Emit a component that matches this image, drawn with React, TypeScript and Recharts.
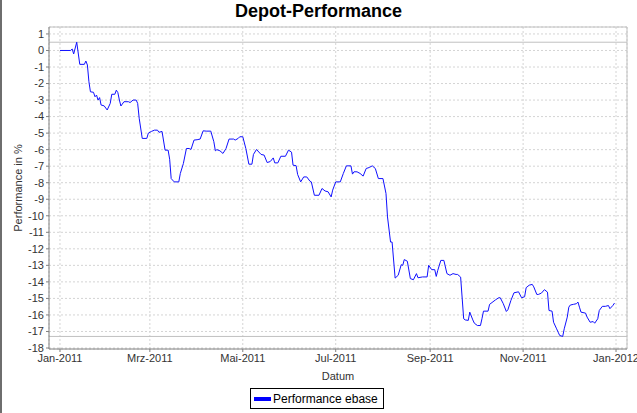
import {
	CartesianGrid,
	Line,
	LineChart,
	ReferenceLine,
	XAxis,
	YAxis,
} from "recharts";

// Tage seit 01.01.2011
const tage = [
	0, 7, 8, 9, 11, 13, 16, 17, 18, 19,
	20, 22, 23, 24, 25, 26, 27, 29, 31, 33,
	34, 36, 37, 38, 39, 40, 42, 45, 46, 48,
	50, 51, 52, 54, 57, 58, 60, 62, 64, 65,
	67, 69, 71, 72, 73, 75, 78, 79, 81, 83,
	85, 86, 88, 90, 92, 94, 96, 99, 101, 102,
	103, 105, 107, 109, 111, 114, 115, 117, 118, 120,
	122, 124, 126, 127, 129, 132, 134, 136, 138, 140,
	141, 143, 145, 148, 150, 152, 153, 155, 156, 158,
	160, 162, 164, 165, 167, 170, 172, 174, 176, 178,
	179, 181, 184, 186, 188, 191, 192, 193, 195, 197,
	199, 201, 203, 205, 207, 209, 212, 214, 215, 217,
	218, 220, 222, 224, 225, 226, 228, 230, 232, 234,
	235, 238, 241, 242, 244, 246, 247, 248, 250, 252,
	254, 256, 258, 260, 261, 263, 265, 266, 268, 269,
	271, 272, 274, 276, 277, 278, 281, 282, 286, 288,
	289, 291, 293, 294, 296, 298, 301, 303, 305, 306,
	308, 310, 311, 313, 314, 316, 318, 320, 321, 323,
	324, 326, 327, 328, 330, 331, 333, 334, 335, 337,
	339, 340, 341, 342, 345, 346, 348, 350, 351, 353,
	354, 356, 358, 360, 361, 363, 364,
];

// Performance in %
const werte = [
	0, 0, 0.09, -0.21, 0.5, -0.84, -0.84, -0.64, -0.88, -1.89,
	-2.5, -2.53, -2.8, -2.7, -3.0, -2.85, -3.3, -3.35, -3.6, -3.2,
	-2.65, -2.65, -2.4, -2.55, -3.0, -3.36, -3.1, -3.1, -3.15, -3.0,
	-3.0, -3.2, -4.1, -5.32, -5.32, -5.0, -4.9, -4.82, -4.82, -4.95,
	-4.9, -6.03, -6.03, -6.58, -7.75, -7.95, -7.95, -7.44, -6.84, -5.93,
	-5.93, -5.99, -5.42, -5.4, -5.36, -4.86, -4.88, -4.88, -5.52, -6.07,
	-6.0, -6.07, -6.23, -5.93, -5.36, -5.36, -5.42, -5.32, -5.22, -5.22,
	-5.93, -6.88, -6.88, -6.29, -5.99, -6.29, -6.33, -6.78, -6.72, -6.5,
	-6.8, -6.8, -6.4, -6.4, -6.03, -6.15, -6.94, -6.97, -7.5, -7.95,
	-7.65, -7.65, -7.9, -7.95, -8.76, -8.76, -8.35, -8.5, -8.55, -8.86,
	-8.45, -7.95, -7.95, -7.44, -6.98, -6.98, -7.48, -7.34, -7.34, -7.44,
	-7.6, -7.14, -7.08, -6.98, -7.14, -7.75, -7.75, -8.65, -10.07, -11.59,
	-11.59, -13.77, -13.6, -12.96, -13.0, -12.65, -12.75, -13.8, -13.87, -13.5,
	-13.75, -13.7, -13.7, -13.0, -13.26, -13.26, -13.67, -13.3, -12.7, -12.7,
	-13.5, -13.6, -13.5, -13.55, -13.55, -13.71, -16.23, -16.3, -16.33, -15.83,
	-16.3, -16.5, -16.64, -16.64, -16.23, -15.77, -15.77, -15.36, -15.08, -14.96,
	-14.96, -15.32, -15.79, -15.69, -15.12, -14.66, -14.6, -14.96, -14.9, -14.35,
	-14.2, -14.15, -14.3, -14.76, -14.76, -14.68, -14.47, -14.62, -15.73, -15.77,
	-16.44, -16.84, -17.04, -17.24, -17.3, -16.84, -16.13, -15.53, -15.4, -15.36,
	-15.32, -15.22, -15.53, -15.83, -15.89, -16.13, -16.44, -16.4, -16.5, -16.23,
	-15.73, -15.48, -15.48, -15.43, -15.62, -15.42, -15.28,
];

const xTickDaten = [
	"2011-01-01",
	"2011-03-01",
	"2011-05-01",
	"2011-07-01",
	"2011-09-01",
	"2011-11-01",
	"2012-01-01",
];
const xTickLabels = [
	"Jan-2011",
	"Mrz-2011",
	"Mai-2011",
	"Jul-2011",
	"Sep-2011",
	"Nov-2011",
	"Jan-2012",
];
const yTicks = [
	1, 0, -1, -2, -3, -4, -5, -6, -7, -8, -9, -10, -11, -12, -13, -14, -15,
	-16, -17, -18,
];

const TAG = 86400000;
const START = Date.UTC(2011, 0, 1);
const FONT = "'Liberation Sans', Arial, sans-serif";

const data = tage.map((d, i) => ({ t: START + d * TAG, wert: werte[i] }));
const xTicks = xTickDaten.map((s) => Date.parse(s + "T00:00:00Z"));
const xMin = START - 7.2 * TAG;
const xMax = START + 372.2 * TAG;
const yMin = -18.06;
const yMax = 1.42;
const maxWert = Math.max(...werte);
const minWert = Math.min(...werte);

export default function App() {
	return (
		<div
			style={{
				position: "absolute",
				left: 0,
				top: 0,
				width: 637,
				height: 413,
				background: "#fff",
				fontFamily: FONT,
			}}
		>
			{/* Fensterrand links */}
			<div
				style={{
					position: "absolute",
					left: 0,
					top: 0,
					width: 2,
					height: 413,
					background: "#6e6e6e",
				}}
			/>
			<div
				style={{
					position: "absolute",
					left: 0,
					top: 1,
					width: 637,
					textAlign: "center",
					fontSize: 18,
					fontWeight: "bold",
					color: "#000",
				}}
			>
				Depot-Performance
			</div>
			<LineChart
				width={637}
				height={413}
				data={data}
				margin={{ top: 27, right: 10, bottom: 29, left: 0 }}
			>
				<CartesianGrid stroke="#d4d4d4" strokeDasharray="2 2" />
				<XAxis
					dataKey="t"
					type="number"
					domain={[xMin, xMax]}
					ticks={xTicks}
					tickFormatter={(v: number) => xTickLabels[xTicks.indexOf(v)] ?? ""}
					height={35}
					tickSize={3}
					tick={{ fill: "#333", fontSize: 11, fontFamily: FONT }}
					axisLine={{ stroke: "#808080" }}
					tickLine={{ stroke: "#808080" }}
					label={{
						value: "Datum",
						position: "insideBottom",
						offset: 4,
						fill: "#333",
						fontSize: 11,
						fontFamily: FONT,
					}}
				/>
				<YAxis
					type="number"
					domain={[yMin, yMax]}
					ticks={yTicks}
					interval={0}
					width={49}
					tickSize={3}
					tickMargin={2}
					tick={{ fill: "#333", fontSize: 11, fontFamily: FONT }}
					axisLine={{ stroke: "#808080" }}
					tickLine={{ stroke: "#808080" }}
					label={{
						value: "Performance in %",
						angle: -90,
						position: "insideLeft",
						offset: 18,
						fill: "#333",
						fontSize: 11,
						fontFamily: FONT,
						style: { textAnchor: "middle" },
					}}
				/>
				<ReferenceLine y={yMax} stroke="#c0c0c0" />
				<ReferenceLine x={xMax} stroke="#c0c0c0" />
				<ReferenceLine y={maxWert} stroke="#c0c0c0" />
				<ReferenceLine y={minWert} stroke="#c0c0c0" />
				<Line
					dataKey="wert"
					type="linear"
					stroke="#1010ff"
					strokeWidth={1}
					dot={false}
					isAnimationActive={false}
				/>
			</LineChart>
			{/* Legende */}
			<div
				style={{
					position: "absolute",
					left: 250,
					top: 388,
					width: 132,
					height: 19,
					border: "1px solid #000",
					display: "flex",
					alignItems: "center",
					fontSize: 12,
					color: "#000",
				}}
			>
				<span
					style={{
						display: "inline-block",
						width: 17,
						height: 4,
						background: "#0000ff",
						marginLeft: 3,
						marginRight: 2,
					}}
				/>
				Performance ebase
			</div>
		</div>
	);
}
